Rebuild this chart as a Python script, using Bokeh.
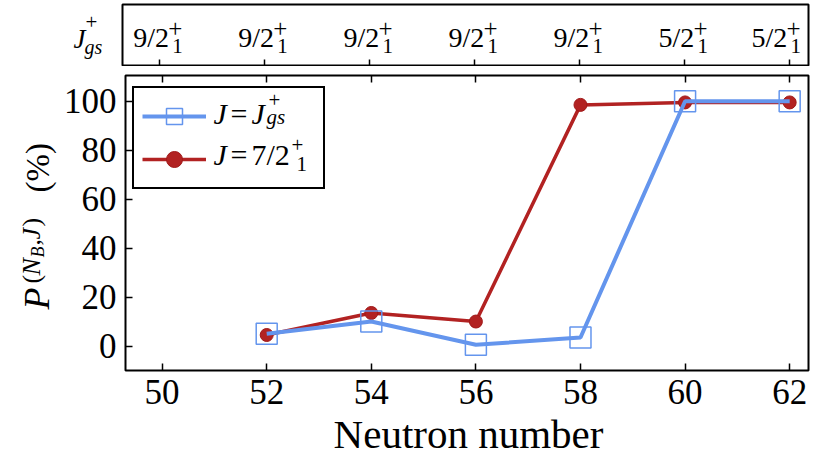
import math
from bokeh.plotting import figure
from bokeh.models import (Range1d, LinearAxis, FixedTicker, Legend, LegendItem,
                          ColumnDataSource)
from bokeh.layouts import column, row
from bokeh.core.properties import value
from bokeh.embed import file_html
from bokeh.resources import INLINE

# ---------------- data ----------------
neutron_ticks = [50, 52, 54, 56, 58, 60, 62]
jgs_main = ["9/2", "9/2", "9/2", "9/2", "9/2", "5/2", "5/2"]
jgs_sub = ["1", "1", "1", "1", "1", "1", "1"]
jgs_sup = ["+", "+", "+", "+", "+", "+", "+"]

neutron = [52, 54, 56, 58, 60, 62]
p_jgs = [5.0, 10.0, 0.5, 3.5, 100.0, 100.0]
p_72 = [4.5, 13.5, 10.0, 98.5, 99.5, 99.5]
y_ticks = [0, 20, 40, 60, 80, 100]
x_title = "Neutron number"

FONT = "Liberation Serif"
BLUE = "#6495ED"
RED = "#B22222"

X0, X1 = 49.3, 62.36
Y0, Y1 = -10, 110.5
x_range = Range1d(X0, X1)

TOP_H = 66
MAIN_TOP = 9
MAIN_FRAME_H = 295
MAIN_BOTTOM = 48
MAIN_H = MAIN_TOP + MAIN_FRAME_H + MAIN_BOTTOM
BOT_H = 35
LEFT_W = 60
JF_W = 110
FULL_ML = 122
ML_TOP = FULL_ML - JF_W
ML_MAIN = FULL_ML - LEFT_W
FRAME_W = 686
MR = 7
W = FULL_ML + FRAME_W + MR
TOP_FRAME = (4, 63)                                   # page y (top, bottom)
MAIN_FRAME = (TOP_H + MAIN_TOP, TOP_H + MAIN_TOP + MAIN_FRAME_H)
M = "middle"


def txt(fig, x, y, text, size, italic=False, angle=0.0, align="left"):
    fig.text(x=[x], y=[y], text=[text], text_font=value(FONT),
             text_font_size=f"{size}px",
             text_font_style="italic" if italic else "normal",
             text_align=align, text_baseline=M, angle=angle,
             text_color="black")


def side_fig(w, h, y0, y1):
    # the row layout aligns this frame with its neighbour's frame, so the
    # y range is chosen so that data y == (page bottom - page y)
    f = figure(width=w, height=h, x_range=Range1d(0, w), y_range=Range1d(y0, y1),
               x_axis_type=None, y_axis_type=None, output_backend="svg",
               toolbar_location=None, min_border=0)
    f.grid.visible = False
    f.outline_line_color = None
    return f


# ---------------- top-left label  J_gs^+ ----------------
jf = side_fig(JF_W, TOP_H, TOP_H - TOP_FRAME[1], TOP_H - TOP_FRAME[0])
txt(jf, 73, TOP_H - 37, "J", 27, italic=True)
txt(jf, 84, TOP_H - 44, "gs", 20, italic=True)
txt(jf, 85, TOP_H - 21, "+", 21)

# ---------------- top panel ----------------
top = figure(width=ML_TOP + FRAME_W + MR, height=TOP_H, x_range=x_range,
             y_range=Range1d(0, 1), output_backend="svg", toolbar_location=None,
             min_border_left=ML_TOP, min_border_right=MR,
             min_border_top=TOP_FRAME[0], min_border_bottom=0)
top.grid.visible = False
top.yaxis.visible = False
top.outline_line_color = "black"
top.outline_line_width = 2
ax = top.xaxis[0]
ax.ticker = FixedTicker(ticks=neutron_ticks)
ax.major_tick_in = 7
ax.major_tick_out = 0
ax.minor_tick_line_color = None
ax.axis_line_color = None
ax.major_tick_line_width = 1.5
ax.major_label_text_font_size = "0px"
ax.major_label_standoff = 0

# last label is nudged left so that it stays inside the frame
shift = [0] * (len(neutron_ticks) - 1) + [-12]
src_top = ColumnDataSource(dict(x=neutron_ticks, y=[0] * len(neutron_ticks),
                                m=jgs_main, sb=jgs_sub, sp=jgs_sup,
                                om=[s - 26 for s in shift],
                                ob=[s + 13 for s in shift],
                                op=[s + 9 for s in shift]))
top.text(x="x", y="y", text="m", source=src_top, text_font=value(FONT),
         text_font_size="28px", text_align="left", text_baseline=M,
         x_offset="om", y_offset=-29, text_color="black")
top.text(x="x", y="y", text="sb", source=src_top, text_font=value(FONT),
         text_font_size="21px", text_align="left", text_baseline=M,
         x_offset="ob", y_offset=-21, text_color="black")
top.text(x="x", y="y", text="sp", source=src_top, text_font=value(FONT),
         text_font_size="25px", text_align="left", text_baseline=M,
         x_offset="op", y_offset=-38, text_color="black")

# ---------------- y-label figure ----------------
H = TOP_H + MAIN_H  # page y -> data y : H - py
yf = side_fig(LEFT_W, MAIN_H, H - MAIN_FRAME[1], H - MAIN_FRAME[0])
A = math.pi / 2
txt(yf, 36, H - 309, "P", 36, italic=True, angle=A)
txt(yf, 31, H - 283, "(", 26, angle=A)
txt(yf, 31, H - 275, "N", 26, italic=True, angle=A)
txt(yf, 37, H - 257, "B", 18, italic=True, angle=A)
txt(yf, 31, H - 245, ",", 26, angle=A)
txt(yf, 31, H - 239, "J", 26, italic=True, angle=A)
txt(yf, 31, H - 226, ")", 26, angle=A)
txt(yf, 37, H - 192, "(%)", 33, angle=A)

# ---------------- main panel ----------------
p = figure(width=ML_MAIN + FRAME_W + MR, height=MAIN_H, x_range=x_range,
           y_range=Range1d(Y0, Y1), output_backend="svg", toolbar_location=None,
           min_border_left=ML_MAIN, min_border_right=MR,
           min_border_top=MAIN_TOP, min_border_bottom=MAIN_BOTTOM)
p.grid.visible = False
p.outline_line_color = "black"
p.outline_line_width = 2

xa = p.xaxis[0]
xa.ticker = FixedTicker(ticks=neutron_ticks)
ya = p.yaxis[0]
ya.ticker = FixedTicker(ticks=y_ticks)
for a in (xa, ya):
    a.major_tick_in = 7
    a.major_tick_out = 0
    a.minor_tick_line_color = None
    a.axis_line_color = None
    a.major_tick_line_width = 1.5
    a.major_label_text_font = FONT
    a.major_label_text_font_size = "35px"
    a.major_label_text_color = "black"
xa.major_label_standoff = 9
ya.major_label_standoff = 9

ax_top = LinearAxis(ticker=FixedTicker(ticks=neutron_ticks), major_tick_in=7,
                    major_tick_out=0, minor_tick_line_color=None,
                    axis_line_color=None, major_tick_line_width=1.5,
                    major_label_text_font_size="0px", major_label_standoff=0)
p.add_layout(ax_top, "above")

src = ColumnDataSource(dict(x=neutron, b=p_jgs, r=p_72))
r_line = p.line("x", "r", source=src, line_color=RED, line_width=3.5)
r_dot = p.scatter("x", "r", source=src, marker="circle", size=13,
                  fill_color=RED, line_color="#A01818", line_width=1)
b_line = p.line("x", "b", source=src, line_color=BLUE, line_width=4)
b_sq = p.scatter("x", "b", source=src, marker="square", size=21,
                 fill_color=None, line_color=BLUE, line_width=1.5)

legend = Legend(items=[LegendItem(label=" ", renderers=[b_line, b_sq]),
                       LegendItem(label=" ", renderers=[r_line, r_dot])],
                location=(7, 181), orientation="vertical",
                glyph_width=64, glyph_height=40, label_height=40,
                label_width=104, label_standoff=5, spacing=3, padding=8,
                margin=0, border_line_color="black", border_line_width=2,
                border_line_alpha=1, background_fill_alpha=0,
                label_text_font_size="10px")
p.add_layout(legend, "center")

# legend texts: anchored at frame top-left, offsets in pixels (down = +)
lg = [("J", 88, 38, 30, True), ("=", 105, 38, 30, False),
      ("J", 126, 38, 30, True), ("gs", 141, 41, 21, True),
      ("+", 143, 24, 21, False),
      ("J", 88, 79, 30, True), ("=", 105, 79, 30, False),
      ("7/2", 126, 79, 30, False), ("1", 171, 88, 21, False),
      ("+", 166, 69, 21, False)]
for t, xo, yo, s, it in lg:
    p.text(x=[X0], y=[Y1], text=[t], text_font=value(FONT),
           text_font_size=f"{s}px",
           text_font_style="italic" if it else "normal",
           text_align="left", text_baseline=M,
           x_offset=xo, y_offset=yo, text_color="black")

# ---------------- x-axis title strip ----------------
bf = figure(width=W, height=BOT_H, x_range=x_range, y_range=Range1d(0, 1),
            x_axis_type=None, y_axis_type=None, output_backend="svg",
            toolbar_location=None, min_border_left=FULL_ML,
            min_border_right=MR, min_border_top=0, min_border_bottom=0)
bf.grid.visible = False
bf.outline_line_color = None
bf.text(x=[X0], y=[0.5], text=[x_title], text_font=value(FONT),
        text_font_size="41px", text_align="center", text_baseline=M,
        x_offset=346, y_offset=-2, text_color="black")

layout = column(row(jf, top), row(yf, p), bf)
open("out.html", "w").write(file_html(layout, INLINE))
